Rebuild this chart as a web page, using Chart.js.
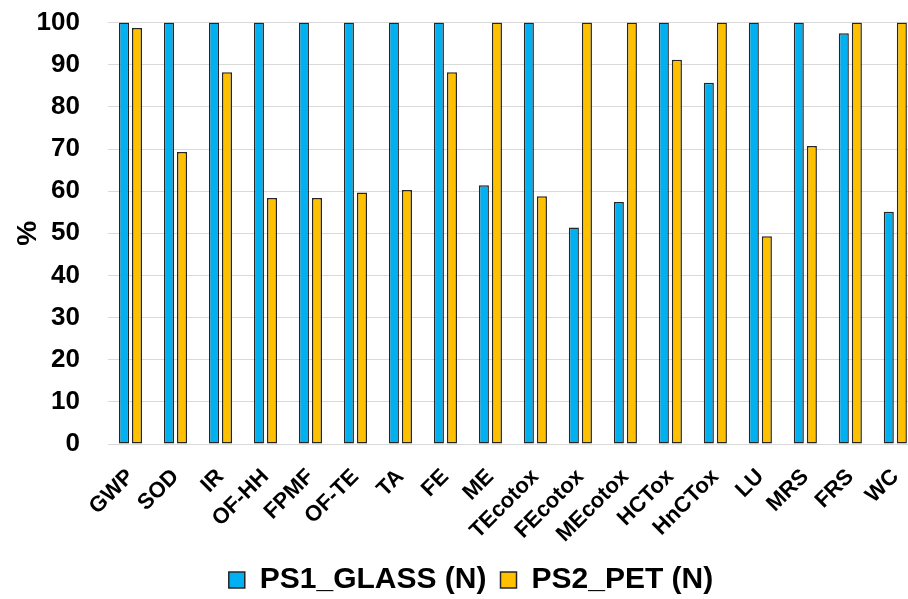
<!DOCTYPE html>
<html>
<head>
<meta charset="utf-8">
<script src="https://cdn.jsdelivr.net/npm/chart.js@4.4.1/dist/chart.umd.min.js"></script>
<style>
  html, body { margin: 0; padding: 0; background: #fff; overflow: hidden; }
  #wrap { width: 908px; height: 599px; overflow: hidden; }
</style>
</head>
<body>
<div id="wrap"><canvas id="myChart" width="926" height="599"></canvas></div>
<script>
// impact categories
const categories = ['GWP', 'SOD', 'IR', 'OF-HH', 'FPMF', 'OF-TE', 'TA', 'FE', 'ME',
  'TEcotox', 'FEcotox', 'MEcotox', 'HCTox', 'HnCTox', 'LU', 'MRS', 'FRS', 'WC'];

// relative results, %
const glass = [100, 100, 100, 100, 100, 100, 100, 100, 61.4,
  100, 51.4, 57.4, 100, 85.7, 100, 100, 97.5, 55.1];
const pet = [98.7, 69.3, 88.2, 58.4, 58.4, 59.7, 60.3, 88.2, 100,
  58.8, 100, 100, 91.2, 100, 49.3, 70.7, 100, 100];

const yTicks = { min: 0, max: 100, step: 10 };

const font = 'Liberation Sans, Arial, sans-serif';

// nudge the legend a bit lower / right, like the original figure
const legendNudge = {
  id: 'legendNudge',
  afterLayout(chart) {
    const lg = chart.legend;
    lg.top += 6; lg.bottom += 6;
    lg.left += 8; lg.right += 8;
  }
};

new Chart(document.getElementById('myChart').getContext('2d'), {
  type: 'bar',
  data: {
    labels: categories,
    datasets: [{
      label: 'PS1_GLASS (N)',
      data: glass,
      backgroundColor: '#00B0F0',
      borderColor: '#262626',
      borderWidth: 1.5,
      borderSkipped: false,
      categoryPercentage: 0.58,
      barPercentage: 0.77
    }, {
      label: 'PS2_PET (N)',
      data: pet,
      backgroundColor: '#FFC000',
      borderColor: '#262626',
      borderWidth: 1.5,
      borderSkipped: false,
      categoryPercentage: 0.58,
      barPercentage: 0.77
    }]
  },
  plugins: [legendNudge],
  options: {
    responsive: false,
    animation: false,
    layout: { padding: { top: 0, right: 0, left: 0, bottom: 0 } },
    plugins: {
      tooltip: { enabled: false },
      legend: {
        position: 'bottom',
        labels: {
          color: '#000',
          font: { family: font, size: 30, weight: 'bold' },
          boxWidth: 16,
          boxHeight: 16,
          padding: 14
        }
      }
    },
    scales: {
      x: {
        grid: { display: false },
        border: { color: '#d9d9d9', width: 1 },
        ticks: {
          color: '#000',
          font: { family: font, size: 22, weight: 'bold' },
          minRotation: 45,
          maxRotation: 45,
          autoSkip: false,
          padding: 12
        },
        afterFit: (scale) => { scale.height = 101; }
      },
      y: {
        min: yTicks.min,
        max: yTicks.max,
        grid: { color: '#d9d9d9', lineWidth: 1, drawTicks: true, tickLength: 21, tickColor: 'rgba(0,0,0,0)' },
        border: { display: false },
        title: {
          display: true,
          text: '%',
          color: '#000',
          font: { family: font, size: 28, weight: 'bold', lineHeight: 1 },
          padding: { top: 14, bottom: 0 }
        },
        ticks: {
          stepSize: yTicks.step,
          color: '#000',
          font: { family: font, size: 26, weight: 'bold' },
          padding: 7
        },
        afterFit: (scale) => { scale.width = 108; }
      }
    }
  }
});
</script>
</body>
</html>
